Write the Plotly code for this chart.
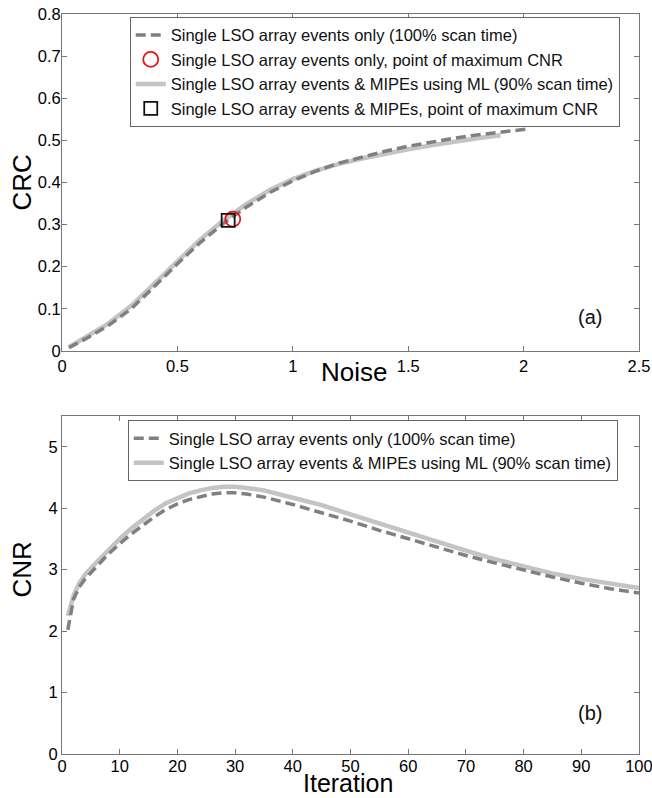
import plotly.graph_objects as go
from plotly.subplots import make_subplots

# ---- Panel (a): CRC vs Noise ----
noise_single = [0.03, 0.1, 0.2, 0.3, 0.4, 0.5, 0.6, 0.7, 0.8, 0.9, 1.0, 1.1, 1.2, 1.3, 1.4, 1.5, 1.6, 1.7, 1.8, 1.9, 2.02]
crc_single = [0.008, 0.028, 0.06, 0.1, 0.153, 0.207, 0.258, 0.303, 0.342, 0.376, 0.404, 0.427, 0.446, 0.461, 0.474, 0.486, 0.496, 0.505, 0.513, 0.52, 0.527]
noise_mipe = [0.03, 0.1, 0.2, 0.3, 0.4, 0.5, 0.6, 0.7, 0.8, 0.9, 1.0, 1.1, 1.2, 1.3, 1.4, 1.5, 1.6, 1.7, 1.8, 1.9]
crc_mipe = [0.009, 0.031, 0.065, 0.107, 0.16, 0.214, 0.265, 0.31, 0.349, 0.382, 0.408, 0.428, 0.444, 0.457, 0.469, 0.479, 0.488, 0.497, 0.505, 0.512]
max_single = (0.74, 0.313)
max_mipe = (0.72, 0.31)

# ---- Panel (b): CNR vs Iteration ----
iterations = [1, 2, 3, 4, 6, 8, 10, 12, 14, 16, 18, 20, 22, 24, 26, 28, 30, 32, 35, 40, 45, 50, 55, 60, 65, 70, 75, 80, 85, 90, 95, 100]
cnr_single = [2.02, 2.52, 2.72, 2.85, 3.05, 3.25, 3.42, 3.58, 3.72, 3.86, 3.98, 4.07, 4.14, 4.19, 4.23, 4.25, 4.25, 4.23, 4.18, 4.06, 3.93, 3.79, 3.64, 3.5, 3.36, 3.23, 3.11, 2.99, 2.88, 2.78, 2.69, 2.62]
cnr_mipe = [2.25, 2.58, 2.78, 2.92, 3.12, 3.32, 3.5, 3.67, 3.82, 3.96, 4.08, 4.17, 4.24, 4.29, 4.33, 4.35, 4.35, 4.33, 4.29, 4.17, 4.05, 3.9, 3.75, 3.6, 3.45, 3.31, 3.17, 3.05, 2.94, 2.85, 2.77, 2.7]

names = [
    "Single LSO array events only (100% scan time)",
    "Single LSO array events only, point of maximum CNR",
    "Single LSO array events & MIPEs using ML (90% scan time)",
    "Single LSO array events & MIPEs, point of maximum CNR",
]

DARK = "#808080"
LIGHT = "#c4c4c4"
FONT = "Liberation Sans, Arial, Helvetica, sans-serif"
DASH = "10px,5px"

fig = make_subplots(rows=2, cols=1)

fig.add_trace(go.Scatter(x=noise_mipe, y=crc_mipe, mode="lines", name=names[2],
                         line=dict(color=LIGHT, width=4.5), legend="legend", legendrank=3), row=1, col=1)
fig.add_trace(go.Scatter(x=noise_single, y=crc_single, mode="lines", name=names[0],
                         line=dict(color=DARK, width=3.5, dash=DASH), legend="legend", legendrank=1), row=1, col=1)
fig.add_trace(go.Scatter(x=[max_single[0]], y=[max_single[1]], mode="markers", name=names[1],
                         marker=dict(symbol="circle-open", size=15, color="#ee1111", line=dict(width=1.8)),
                         legend="legend", legendrank=2), row=1, col=1)
fig.add_trace(go.Scatter(x=[max_mipe[0]], y=[max_mipe[1]], mode="markers", name=names[3],
                         marker=dict(symbol="square-open", size=13, color="#111111", line=dict(width=1.8)),
                         legend="legend", legendrank=4), row=1, col=1)

fig.add_trace(go.Scatter(x=iterations, y=cnr_mipe, mode="lines", name=names[2],
                         line=dict(color=LIGHT, width=4.5), legend="legend2", legendrank=2), row=2, col=1)
fig.add_trace(go.Scatter(x=iterations, y=cnr_single, mode="lines", name=names[0],
                         line=dict(color=DARK, width=3.5, dash=DASH), legend="legend2", legendrank=1), row=2, col=1)

axis_common = dict(showline=True, linecolor="#777777", linewidth=1, mirror="allticks",
                   ticks="inside", ticklen=5, tickcolor="#777777", showgrid=False, zeroline=False,
                   automargin=False, ticklabeloverflow="allow",
                   tickfont=dict(family=FONT, size=16.5, color="#000000"))

fig.update_xaxes(**axis_common)
fig.update_yaxes(**axis_common)

fig.update_xaxes(range=[0, 2.5], tickvals=[0, 0.5, 1, 1.5, 2, 2.5], ticktext=["0", "0.5", "1", "1.5", "2", "2.5"],
                 domain=[0.0951, 0.980], row=1, col=1)
fig.update_yaxes(range=[0, 0.8], tickvals=[0, 0.1, 0.2, 0.3, 0.4, 0.5, 0.6, 0.7, 0.8],
                 ticktext=["0", "0.1", "0.2", "0.3", "0.4", "0.5", "0.6", "0.7", "0.8"],
                 domain=[0.5602, 0.9825], ticklabelstandoff=-3, row=1, col=1)
fig.update_xaxes(range=[0, 100], tickvals=list(range(0, 101, 10)), domain=[0.0951, 0.980],
                 ticklabelstandoff=-3, row=2, col=1)
fig.update_yaxes(range=[0, 5.5], tickvals=[0, 1, 2, 3, 4, 5], domain=[0.0551, 0.4787], row=2, col=1)

legend_common = dict(bgcolor="white", bordercolor="#666666", borderwidth=1,
                     font=dict(family=FONT, size=16.5, color="#111111"),
                     xanchor="left", yanchor="top", tracegroupgap=0, itemwidth=30,
                     traceorder="normal")

TITLE_FONT = dict(family=FONT, size=26, color="#000000")
ann_common = dict(xref="paper", yref="paper", showarrow=False, xanchor="center", yanchor="middle")

fig.update_layout(
    width=652, height=798,
    margin=dict(l=0, r=0, t=0, b=0),
    paper_bgcolor="white", plot_bgcolor="white",
    legend=dict(x=0.199, y=0.979, **legend_common),
    legend2=dict(x=0.196, y=0.4737, **legend_common),
    annotations=[
        dict(text="(a)", x=0.905, y=0.6028, font=dict(family=FONT, size=20, color="#111111"), **ann_common),
        dict(text="(b)", x=0.905, y=0.1065, font=dict(family=FONT, size=20, color="#111111"), **ann_common),
        dict(text="Noise", x=0.543, y=0.5338, font=TITLE_FONT, **ann_common),
        dict(text="Iteration", x=0.534, y=0.0, xref="paper", yref="paper", showarrow=False,
             xanchor="center", yanchor="bottom", yshift=-1, font=dict(family=FONT, size=25, color="#000000")),
        dict(text="CRC", x=0.033, y=0.7707, textangle=-90, font=TITLE_FONT, **ann_common),
        dict(text="CNR", x=0.033, y=0.2857, textangle=-90, font=TITLE_FONT, **ann_common),
    ],
)

fig.write_html("out.html")
